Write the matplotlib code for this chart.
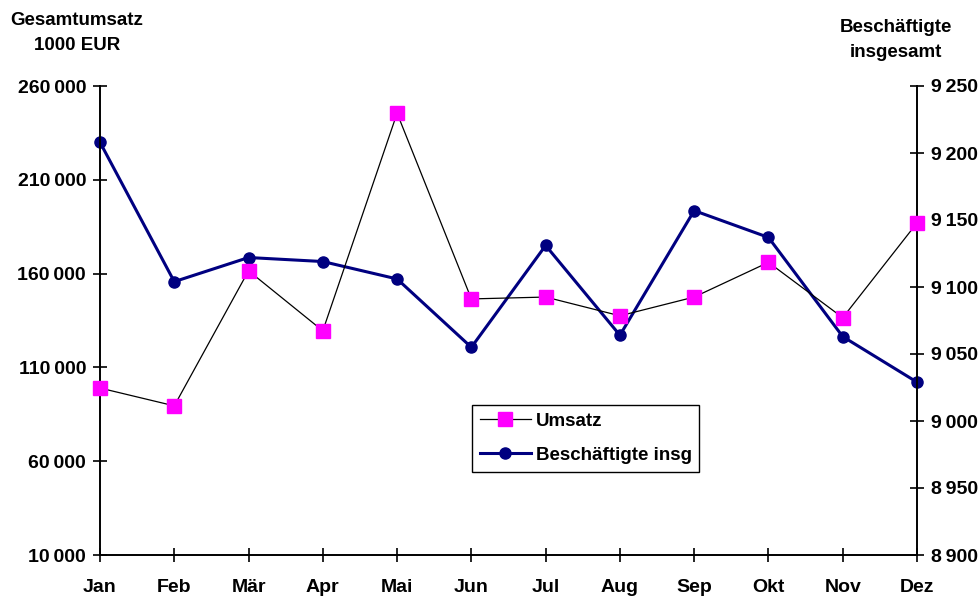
import matplotlib.pyplot as plt
from matplotlib.ticker import FuncFormatter

plt.rcParams['font.family'] = ['Liberation Sans', 'DejaVu Sans']
plt.rcParams['font.weight'] = 'bold'

monate = ["Jan", "Feb", "Mär", "Apr", "Mai", "Jun", "Jul", "Aug", "Sep", "Okt", "Nov", "Dez"]
umsatz = [99000, 89500, 161500, 129500, 245500, 146500, 147500, 137500, 147500, 166000, 136500, 187000]
beschaeftigte = [9208, 9104, 9122, 9119, 9106, 9055, 9131, 9064, 9157, 9137, 9063, 9029]


def fmt(v, pos):
    return f"{int(v):,}".replace(",", "\u2009")


fig = plt.figure(figsize=(9.79, 5.97), dpi=100)
ax = fig.add_axes([100 / 979, 42 / 597, 817 / 979, 469 / 597])
ax2 = ax.twinx()

x = list(range(len(monate)))
l1, = ax.plot(x, umsatz, color="black", lw=0.9, marker="s", ms=10,
              mfc="#FF00FF", mec="#FF00FF", label="Umsatz", zorder=3, clip_on=False)
l2, = ax2.plot(x, beschaeftigte, color="#000080", lw=2.2, marker="o", ms=8,
               mfc="#000080", mec="#000080", label="Beschäftigte insg", clip_on=False)

ax.set_xlim(0, 11)
ax.set_ylim(10000, 260000)
ax.set_yticks(range(10000, 260001, 50000))
ax2.set_ylim(8900, 9250)
ax2.set_yticks(range(8900, 9251, 50))
ax.yaxis.set_major_formatter(FuncFormatter(fmt))
ax2.yaxis.set_major_formatter(FuncFormatter(fmt))
ax.set_xticks(x)
ax.set_xticklabels(monate)

for a in (ax, ax2):
    a.spines['top'].set_visible(False)
    for s in a.spines.values():
        s.set_linewidth(1.2)
    a.tick_params(direction="inout", length=10, width=1.2, labelsize=14)
ax.tick_params(axis="x", pad=12)
ax.tick_params(axis="y", pad=5)
ax2.tick_params(axis="y", pad=5)
ax.set_zorder(ax2.get_zorder() + 1)
ax.patch.set_visible(False)

fig.text(77 / 979, 1 - 33 / 597, "Gesamtumsatz\n1000 EUR", ha="center", va="center",
         fontsize=13.5, fontweight="bold", linespacing=1.55)
fig.text(896 / 979, 1 - 40 / 597, "Beschäftigte\ninsgesamt", ha="center", va="center",
         fontsize=13.5, fontweight="bold", linespacing=1.55)

leg = ax.legend(handles=[l1, l2], loc="upper left", bbox_to_anchor=(372 / 817, 1 - (405 - 86) / 469),
                frameon=True, fancybox=False, fontsize=13.5, borderaxespad=0,
                handlelength=2.7, handletextpad=0.27, borderpad=0.42, labelspacing=0.9,
                edgecolor="black", framealpha=1)
leg.get_frame().set_linewidth(1.0)

fig.savefig("out.png", dpi=100)
